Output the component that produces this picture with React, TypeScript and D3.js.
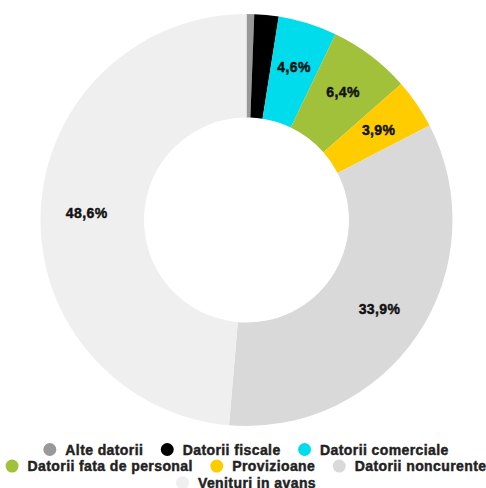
import React, { useEffect, useRef } from "react";
import * as d3 from "d3";

const categories = [
  "Alte datorii",
  "Datorii fiscale",
  "Datorii comerciale",
  "Datorii fata de personal",
  "Provizioane",
  "Datorii noncurente",
  "Venituri in avans",
];
const values = [0.6, 1.9, 4.6, 6.4, 3.9, 33.9, 48.6];
const labels = ["", "", "4,6%", "6,4%", "3,9%", "33,9%", "48,6%"];
const colors = ["#999999", "#000000", "#00dcec", "#a2c13a", "#ffcc00", "#d9d9d9", "#efefef"];
const legendRows = [
  [0, 1, 2],
  [3, 4, 5],
  [6],
];

const W = 486;
const H = 488;
const FONT = "'Liberation Sans', Arial, Helvetica, sans-serif";

export default function App() {
  const ref = useRef<SVGSVGElement>(null);

  useEffect(() => {
    const svg = d3.select(ref.current);
    svg.selectAll("*").remove();

    const cx = 246.5;
    const cy = 220;
    const outerR = 206;
    const innerR = 102.5;

    const pie = d3
      .pie<number>()
      .sort(null)
      .value((d) => d);
    const arcs = pie(values);
    const arc = d3.arc<d3.PieArcDatum<number>>().innerRadius(innerR).outerRadius(outerR);
    const labelArc = d3.arc<d3.PieArcDatum<number>>().innerRadius(160).outerRadius(160);

    const g = svg.append("g").attr("transform", `translate(${cx},${cy})`);
    g.selectAll("path")
      .data(arcs)
      .enter()
      .append("path")
      .attr("d", arc)
      .attr("fill", (_, i) => colors[i]);

    g.selectAll("text.lbl")
      .data(arcs)
      .enter()
      .append("text")
      .attr("class", "lbl")
      .attr("transform", (d) => `translate(${labelArc.centroid(d)})`)
      .attr("text-anchor", "middle")
      .attr("dominant-baseline", "central")
      .attr("font-family", FONT)
      .attr("font-weight", "bold")
      .attr("font-size", 14)
      .attr("letter-spacing", 0.4)
      .attr("fill", "#111")
      .attr("stroke", "#111")
      .attr("stroke-width", 0.45)
      .text((_, i) => labels[i]);

    // Legend
    const legend = svg.append("g");
    const markerR = 6.5;
    const markerGap = 15.5;
    const itemGap = 17.5;
    const items = categories.map((c, i) => {
      const t = legend
        .append("text")
        .attr("font-family", FONT)
        .attr("font-weight", "bold")
        .attr("font-size", 14)
        .attr("letter-spacing", 0.4)
        .attr("fill", "#222")
        .attr("stroke", "#222")
        .attr("stroke-width", 0.45)
        .attr("dominant-baseline", "central")
        .text(c);
      const tw = (t.node() as SVGTextElement).getComputedTextLength();
      return { i, t, tw, w: markerR + markerGap + tw };
    });

    const rowY0 = 449.5;
    const rowH = 16.6;
    const centerX = 246;
    legendRows.forEach((rowIdx, r) => {
      const row = rowIdx.map((k) => items[k]);
      const total = row.reduce((s, it, k) => s + it.w + (k ? itemGap : 0), 0);
      let x = centerX - total / 2;
      const y = rowY0 + r * rowH;
      row.forEach((it) => {
        legend
          .append("circle")
          .attr("cx", x + markerR)
          .attr("cy", y)
          .attr("r", markerR)
          .attr("fill", colors[it.i]);
        it.t.attr("x", x + markerR + markerGap).attr("y", y);
        x += it.w + itemGap;
      });
    });
  }, []);

  return (
    <svg
      ref={ref}
      width={W}
      height={H}
      style={{ position: "absolute", left: 0, top: 0, background: "#fff" }}
    />
  );
}
